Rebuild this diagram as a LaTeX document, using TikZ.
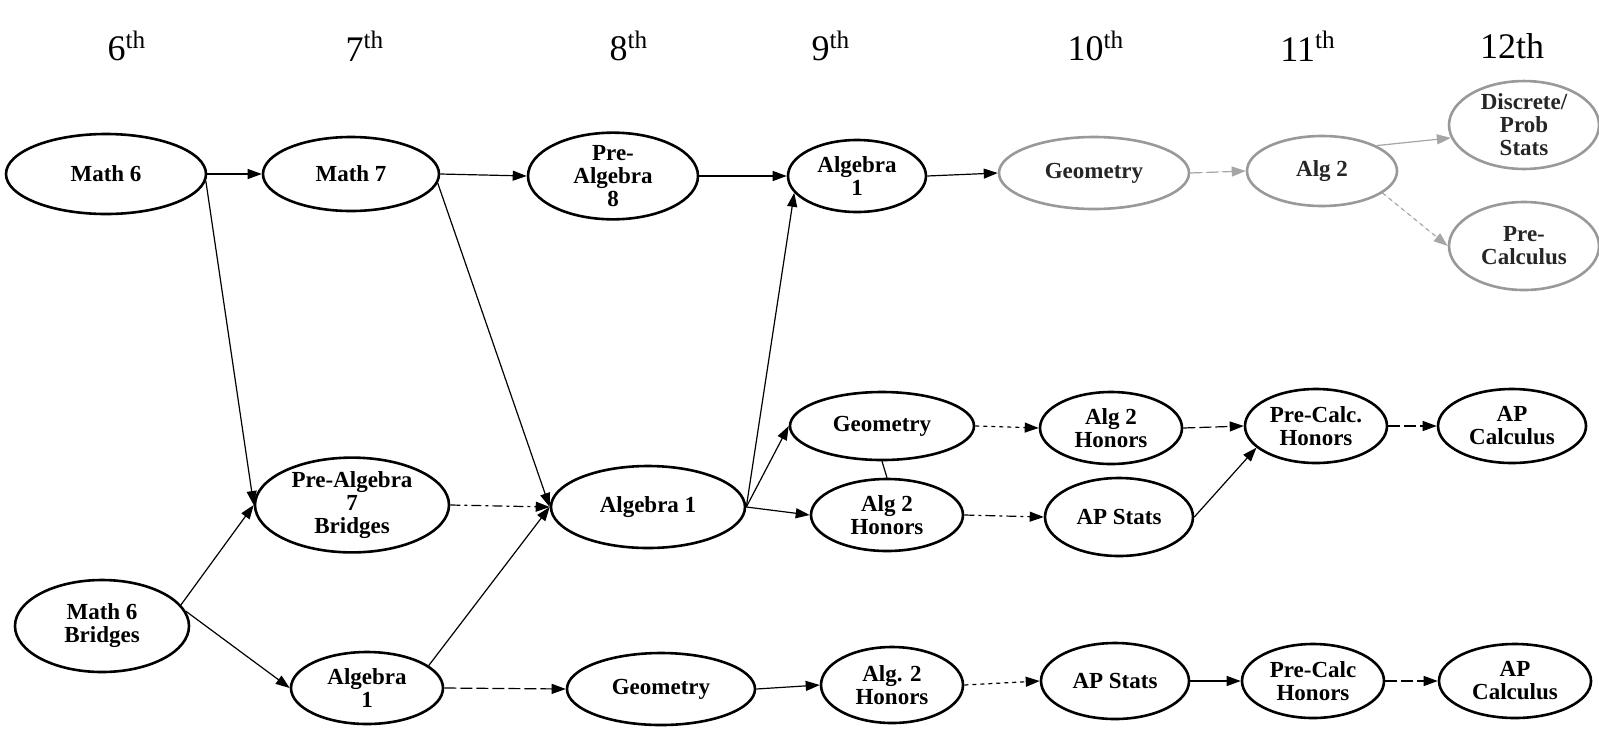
\documentclass[tikz,border=0pt]{standalone}
\usepackage{fontspec}
\setmainfont{Liberation Serif}
\usetikzlibrary{arrows.meta,shapes.geometric}
\begin{document}
\begin{tikzpicture}[x=0.5pt,y=-0.5pt,
  course/.style={ellipse,draw=black,line width=1.3pt,inner sep=0pt,align=center,
    font=\fontsize{11.5}{11.5}\selectfont\bfseries},
  faded/.style={course,draw=black!40,text=black!85},
  hdr/.style={font=\fontsize{18}{18}\selectfont},
  arr/.style={-{Triangle[length=7pt,width=5pt]},line width=0.6pt},
  farr/.style={arr,draw=black!35,fill=black!35},
  dsh/.style={dash pattern=on 6pt off 2pt},
  dtt/.style={dash pattern=on 2pt off 2pt},
  dsd/.style={dash pattern=on 5pt off 2pt on 1.5pt off 2pt}]
\useasboundingbox (0,0) rectangle (1599,740);
\fill[white] (0,0) rectangle (1599,740);
% headers
\node[hdr] (h6) at (127,46) {6\textsuperscript{th}};
\node[hdr] (h7) at (365,46) {7\textsuperscript{th}};
\node[hdr] (h8) at (629,46) {8\textsuperscript{th}};
\node[hdr] (h9) at (831,46) {9\textsuperscript{th}};
\node[hdr] (h10) at (1096,46) {10\textsuperscript{th}};
\node[hdr] (h11) at (1308,46) {11\textsuperscript{th}};
\node[hdr] (h12) at (1512,46) {12th};
% top row
\node[course,minimum width=100pt,minimum height=40pt] (m6) at (106,174) {Math 6};
\node[course,minimum width=88pt,minimum height=37pt] (m7) at (351,174) {Math 7};
\node[course,minimum width=85pt,minimum height=41pt] (pa8) at (613,176) {Pre-\\Algebra\\8};
\node[course,minimum width=69pt,minimum height=36pt] (a19) at (857,176) {Algebra\\1};
\node[faded,minimum width=95pt,minimum height=36pt] (g10) at (1094,173) {Geometry};
\node[faded,minimum width=75pt,minimum height=35pt] (a211) at (1322,171) {Alg 2};
\node[faded,minimum width=75pt,minimum height=42pt] (dps) at (1524,125) {Discrete/\\Prob\\Stats};
\node[faded,minimum width=75pt,minimum height=44pt] (pc) at (1524,246) {Pre-\\Calculus};
% middle
\node[course,minimum width=97pt,minimum height=42pt] (pa7b) at (352,505) {Pre-Algebra\\7\\Bridges};
\node[course,minimum width=97pt,minimum height=41pt] (a18) at (648,507) {Algebra 1};
\node[course,minimum width=92pt,minimum height=34pt] (g9) at (882,426) {Geometry};
\node[course,minimum width=76pt,minimum height=36pt] (a2h9) at (887,515) {Alg 2\\Honors};
\node[course,minimum width=71pt,minimum height=36pt] (a2h10) at (1111,428) {Alg 2\\Honors};
\node[course,minimum width=74pt,minimum height=39pt] (aps10) at (1119,517) {AP Stats};
\node[course,minimum width=71pt,minimum height=37pt] (pch11) at (1316,426) {Pre-Calc.\\Honors};
\node[course,minimum width=74pt,minimum height=37pt] (apc12) at (1512,426) {AP\\Calculus};
% bottom
\node[course,minimum width=87pt,minimum height=46pt] (m6b) at (102,626) {Math 6\\Bridges};
\node[course,minimum width=76pt,minimum height=36pt] (a17) at (367,688) {Algebra\\1};
\node[course,minimum width=94pt,minimum height=36pt] (g8) at (661,689) {Geometry};
\node[course,minimum width=71pt,minimum height=38pt] (a2hb) at (892,685) {Alg. 2\\Honors};
\node[course,minimum width=74pt,minimum height=38pt] (apsb) at (1115,681) {AP Stats};
\node[course,minimum width=71pt,minimum height=37pt] (pchb) at (1313,681) {Pre-Calc\\Honors};
\node[course,minimum width=76pt,minimum height=37pt] (apcb) at (1515,681) {AP\\Calculus};
% connectors
\draw[arr] (m6.east) -- (m7.west);
\draw[arr] (m6.-4) -- (pa7b.west);
\draw[arr] (m7.east) -- (pa8.west);
\draw[arr] (m7.-6) -- (a18.west);
\draw[arr] (pa8.east) -- (a19.west);
\draw[arr] (a18.east) -- (a19.195);
\draw[arr] (a19.east) -- (g10.west);
\draw[farr,dsh] (g10.east) -- (a211.west);
\draw[farr] (a211.25) -- (dps.190);
\draw[farr,dtt] (a211.-20) -- (pc.180);
\draw[arr,dsd] (pa7b.east) -- (a18.west);
\draw[arr] (m6b.15) -- (pa7b.west);
\draw[arr] (m6b.10) -- (a17.west);
\draw[arr] (a17.20) -- (a18.west);
\draw[arr,dsh] (a17.east) -- (g8.west);
\draw[arr] (g8.east) -- (a2hb.west);
\draw[arr,dtt] (a2hb.east) -- (apsb.west);
\draw[arr] (apsb.east) -- (pchb.west);
\draw[arr,dsh] (pchb.east) -- (apcb.west);
\draw[arr] (a18.east) -- (g9.west);
\draw[arr] (a18.east) -- (a2h9.west);
\draw[line width=0.6pt] (g9.south) -- (a2h9.north);
\draw[arr,dtt] (g9.east) -- (a2h10.west);
\draw[arr,dsd] (a2h9.east) -- (aps10.west);
\draw[arr,dsh] (a2h10.east) -- (pch11.west);
\draw[arr] (aps10.east) -- (pch11.200);
\draw[arr,dsh] (pch11.east) -- (apc12.west);
\end{tikzpicture}
\end{document}
